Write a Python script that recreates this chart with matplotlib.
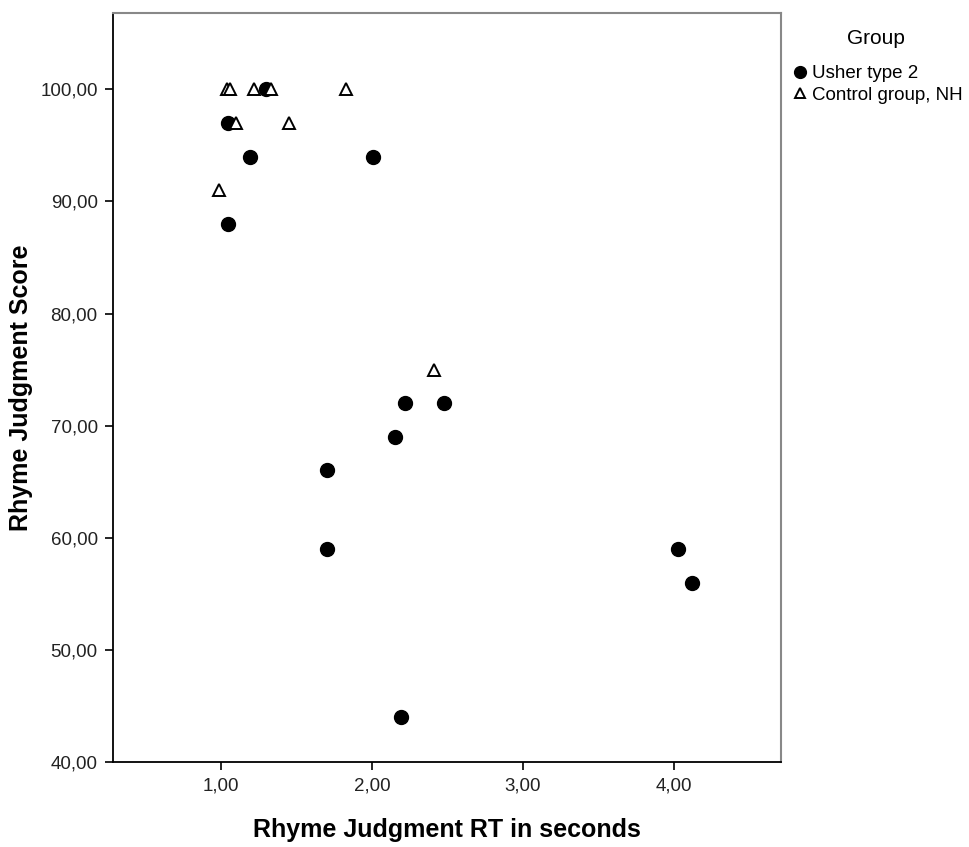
import matplotlib
matplotlib.use("Agg")
import matplotlib.pyplot as plt
from matplotlib.ticker import FuncFormatter

# Usher type 2
usher_rt = [1.05, 1.19, 1.05, 1.30, 2.01, 2.22, 2.48, 2.15, 1.70, 1.70, 2.19, 4.03, 4.12]
usher_score = [97, 94, 88, 100, 94, 72, 72, 69, 66, 59, 44, 59, 56]

# Control group, NH
ctrl_rt = [1.04, 1.06, 1.22, 1.33, 1.83, 1.10, 1.45, 0.99, 2.41]
ctrl_score = [100, 100, 100, 100, 100, 97, 97, 91, 75]

x_ticks = [1, 2, 3, 4]
y_ticks = [40, 50, 60, 70, 80, 90, 100]

plt.rcParams['font.family'] = ['Liberation Sans', 'DejaVu Sans']

fig = plt.figure(figsize=(9.70, 8.47), dpi=100)
ax = fig.add_axes([0.1165, 0.1004, 0.805 - 0.1165, 0.9843 - 0.1004])

ax.plot(usher_rt, usher_score, 'o', color='black', markersize=10,
        label='Usher type 2', zorder=3)
ax.plot(ctrl_rt, ctrl_score, '^', markerfacecolor='white', markeredgecolor='black',
        markeredgewidth=1.4, markersize=9, label='Control group, NH', zorder=4)

ax.set_xlim(0.285, 4.709)
ax.set_ylim(40, 106.78)
ax.set_xticks(x_ticks)
ax.set_yticks(y_ticks)
comma = FuncFormatter(lambda v, p: ('%.2f' % v).replace('.', ','))
ax.xaxis.set_major_formatter(comma)
ax.yaxis.set_major_formatter(comma)
ax.tick_params(direction='out', length=6, width=1.2, labelsize=13.5, pad=5,
               colors='black', labelcolor='#222222')

for s in ['left', 'bottom']:
    ax.spines[s].set_color('black')
    ax.spines[s].set_linewidth(1.3)
for s in ['top', 'right']:
    ax.spines[s].set_color('#888888')
    ax.spines[s].set_linewidth(1.5)

ax.set_xlabel('Rhyme Judgment RT in seconds', fontsize=18, fontweight='bold', labelpad=17)
ax.set_ylabel('Rhyme Judgment Score', fontsize=18, fontweight='bold', labelpad=5)

fig.text(876 / 970, 1 - 38 / 847, 'Group', ha='center', va='center', fontsize=15)
leg = fig.legend(loc='upper left', bbox_to_anchor=(791 / 970, 1 - 65 / 847), frameon=False,
                 fontsize=13.5, handletextpad=0.1, handlelength=1.0, borderaxespad=0,
                 borderpad=0, labelspacing=0.25, markerscale=0.85)

fig.savefig('out.png', dpi=100)
